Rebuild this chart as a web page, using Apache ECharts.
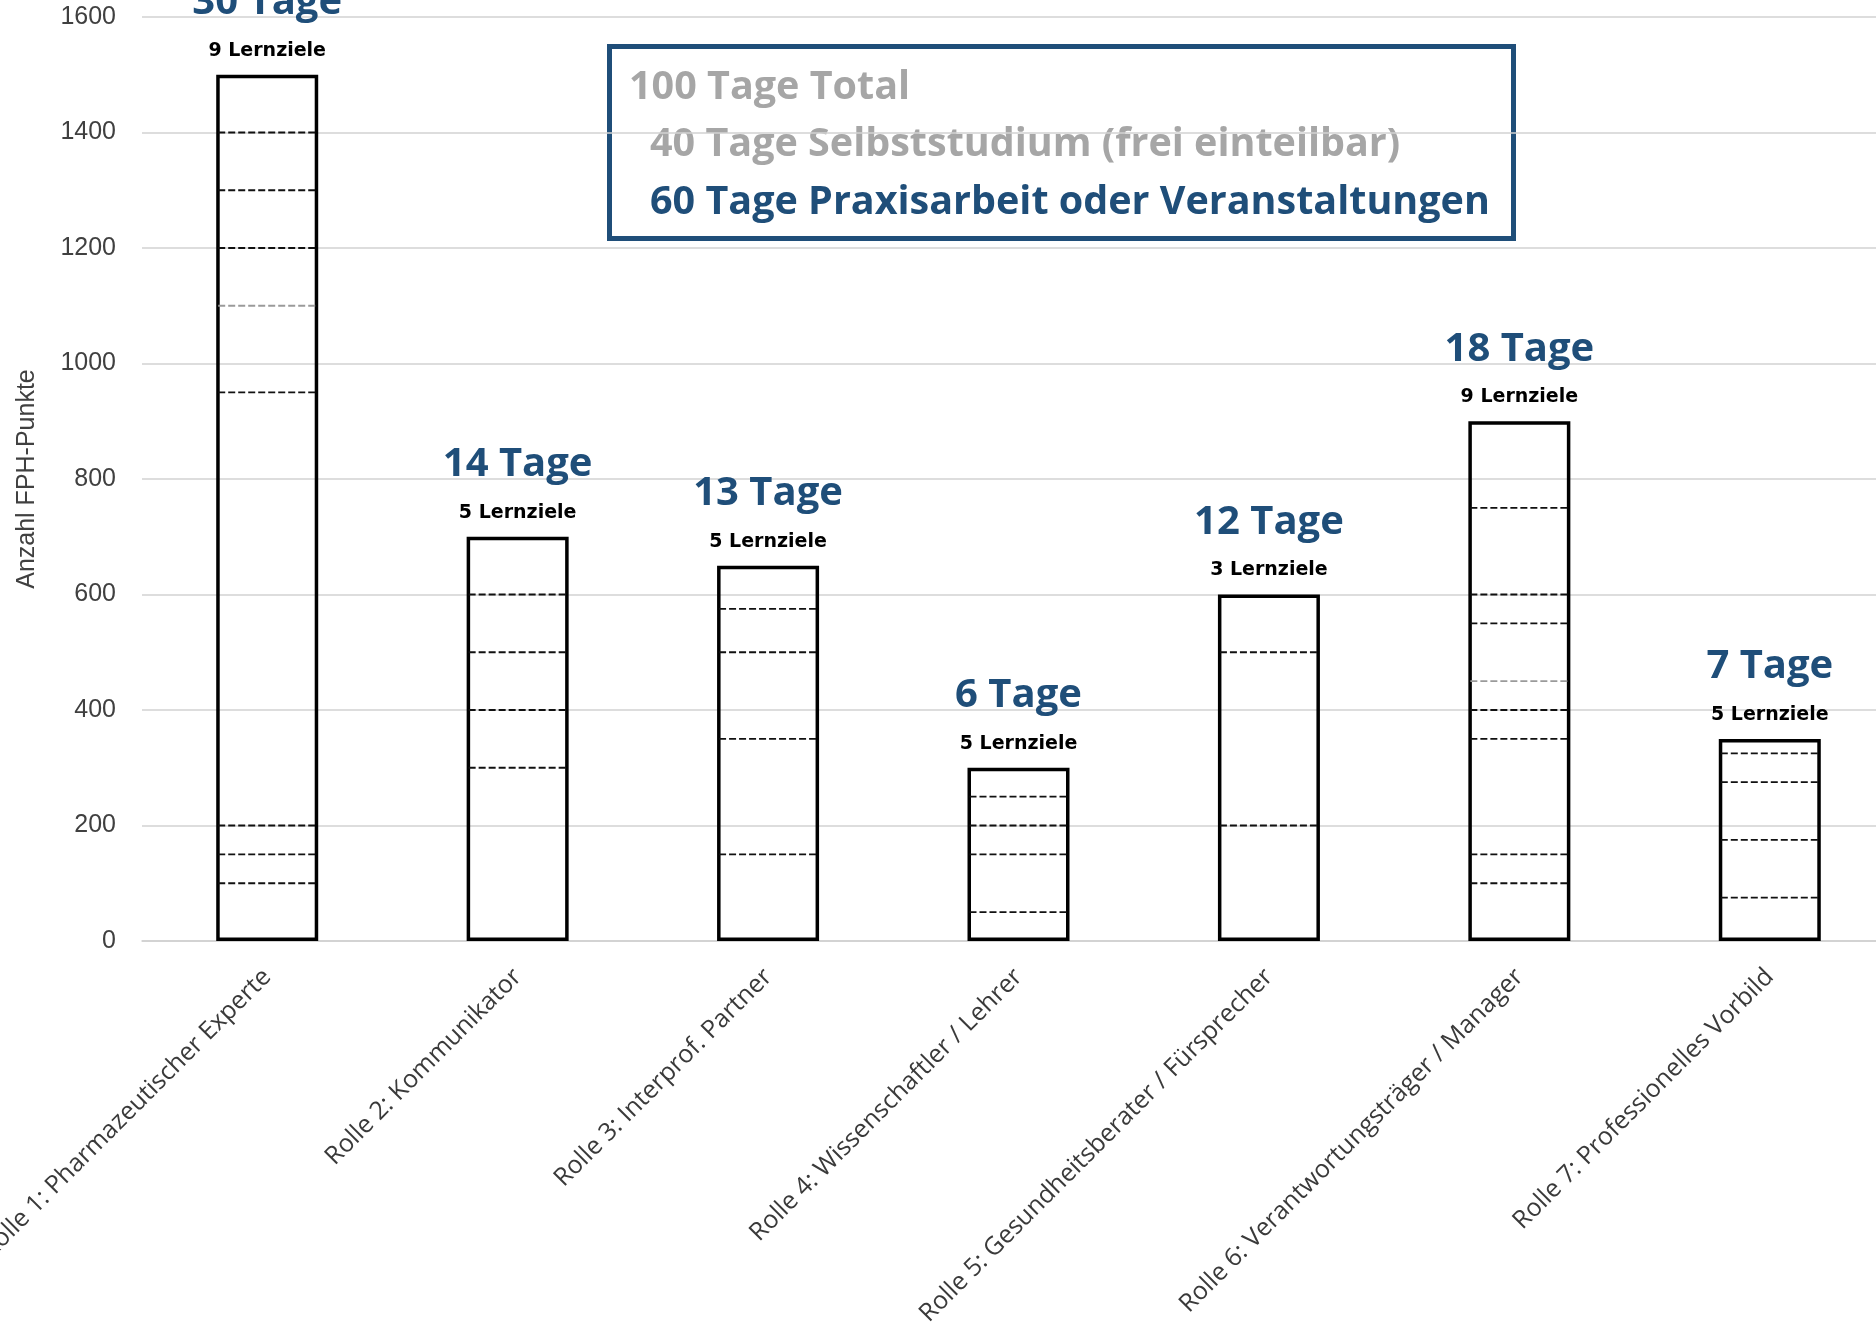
<!DOCTYPE html>
<html lang="de">

<head>
  <meta charset="UTF-8">
  <script src="https://cdn.jsdelivr.net/npm/echarts@6.0.0/dist/echarts.min.js"></script>
  <style>
    body,
    html {
      margin: 0;
      padding: 0;
      width: 100%;
      height: 100%;
      background: #ffffff;
      overflow: hidden;
    }

    #main {
      width: 1876px;
      height: 1323px;
    }
  </style>
</head>

<body>
  <div id="main"></div>
  <script type="text/javascript">
    // Rollen und Werte
    const roles = [
      'Rolle 1: Pharmazeutischer Experte',
      'Rolle 2: Kommunikator',
      'Rolle 3: Interprof. Partner',
      'Rolle 4: Wissenschaftler / Lehrer',
      'Rolle 5: Gesundheitsberater / Fürsprecher',
      'Rolle 6: Verantwortungsträger / Manager',
      'Rolle 7: Professionelles Vorbild'
    ];
    const fphPoints = [1500, 700, 650, 300, 600, 900, 350];
    const days = [30, 14, 13, 6, 12, 18, 7];
    const goals = [9, 5, 5, 5, 3, 9, 5];

    // Grenzen zwischen den Lernzielen innerhalb jeder Säule
    const dividers = [
      [1400, 1300, 1200, 950, 200, 150, 100],
      [600, 500, 400, 300],
      [575, 500, 350, 150],
      [250, 200, 150, 50],
      [500, 200],
      [750, 600, 550, 400, 350, 150, 100],
      [325, 275, 175, 75]
    ];
    const faintDividers = [[1100], [], [], [], [], [450], []];

    const yTicks = [0, 200, 400, 600, 800, 1000, 1200, 1400, 1600];

    const boxLines = [
      '100 Tage Total',
      '40 Tage Selbststudium (frei einteilbar)',
      '60 Tage Praxisarbeit oder Veranstaltungen'
    ];

    const dividerData = [];
    dividers.forEach(function (list, i) {
      list.forEach(function (v) { dividerData.push([i, v, 0]); });
    });
    faintDividers.forEach(function (list, i) {
      list.forEach(function (v) { dividerData.push([i, v, 1]); });
    });

    const BLUE = '#1F4E79';
    const BAR_W = 102;

    var myChart = echarts.init(document.getElementById('main'));

    const option = {
      backgroundColor: '#ffffff',
      animation: false,
      grid: {
        left: 142,
        top: 17,
        width: 1753,
        height: 924,
        outerBoundsMode: 'none'
      },
      xAxis: {
        type: 'category',
        data: roles,
        boundaryGap: true,
        axisTick: { show: false },
        axisLine: { lineStyle: { color: '#cfcfcf', width: 1.5 } },
        axisLabel: {
          interval: 0,
          rotate: 45,
          margin: 32,
          color: '#3a3a3a',
          fontSize: 25,
          fontFamily: 'Open Sans'
        }
      },
      yAxis: {
        type: 'value',
        min: yTicks[0],
        max: yTicks[yTicks.length - 1],
        interval: 200,
        name: 'Anzahl FPH-Punkte',
        nameLocation: 'middle',
        nameRotate: 90,
        nameGap: 102,
        nameTextStyle: {
          color: '#404040',
          fontSize: 25,
          fontFamily: 'Liberation Sans'
        },
        axisLine: { show: false },
        axisTick: { show: false },
        axisLabel: {
          margin: 26,
          color: '#404040',
          fontSize: 25,
          fontFamily: 'Liberation Sans',
          formatter: function (v) { return String(v); }
        },
        splitLine: { lineStyle: { color: '#d2d2d2', width: 1.5 } }
      },
      graphic: [{
        type: 'group',
        z: 100,
        children: [
          {
            type: 'rect',
            shape: { x: 609.5, y: 46.5, width: 904, height: 192 },
            style: { fill: '#ffffff', stroke: BLUE, lineWidth: 5 }
          },
          {
            type: 'text',
            style: {
              text: boxLines[0], x: 629, y: 88, verticalAlign: 'middle',
              fill: '#a6a6a6', font: 'bold 39.5px "Open Sans"'
            }
          },
          {
            type: 'text',
            style: {
              text: boxLines[1], x: 650, y: 145, verticalAlign: 'middle',
              fill: '#a6a6a6', font: 'bold 39.5px "Open Sans"'
            }
          },
          {
            type: 'text',
            style: {
              text: boxLines[2], x: 650, y: 203, verticalAlign: 'middle',
              fill: BLUE, font: 'bold 39.5px "Open Sans"'
            }
          }
        ]
      }],
      series: [
        {
          name: 'FPH-Punkte',
          type: 'bar',
          data: fphPoints,
          barWidth: BAR_W,
          itemStyle: {
            color: 'rgba(0,0,0,0)',
            borderColor: '#000000',
            borderWidth: 3.5
          },
          label: {
            show: true,
            position: 'top',
            distance: 12,
            formatter: function (p) {
              return '{t|' + days[p.dataIndex] + ' Tage}\n{l|' + goals[p.dataIndex] + ' Lernziele}';
            },
            rich: {
              t: {
                fontSize: 40,
                fontWeight: 'bold',
                fontFamily: 'Open Sans',
                color: BLUE,
                lineHeight: 72
              },
              l: {
                fontSize: 19,
                fontWeight: 'bold',
                fontFamily: 'DejaVu Sans',
                color: '#000000',
                lineHeight: 24
              }
            }
          },
          z: 3
        },
        {
          name: 'Lernziele',
          type: 'custom',
          data: dividerData,
          z: 4,
          renderItem: function (params, api) {
            const p = api.coord([api.value(0), api.value(1)]);
            const half = BAR_W / 2 - 2;
            const faint = api.value(2) === 1;
            return {
              type: 'line',
              shape: { x1: p[0] - half, y1: p[1], x2: p[0] + half, y2: p[1] },
              style: {
                stroke: faint ? '#9a9a9a' : '#111111',
                lineWidth: 1.8,
                lineDash: [7, 3]
              }
            };
          }
        }
      ]
    };

    myChart.setOption(option);

    window.addEventListener('resize', function () {
      myChart.resize();
    });
  </script>
</body>

</html>
